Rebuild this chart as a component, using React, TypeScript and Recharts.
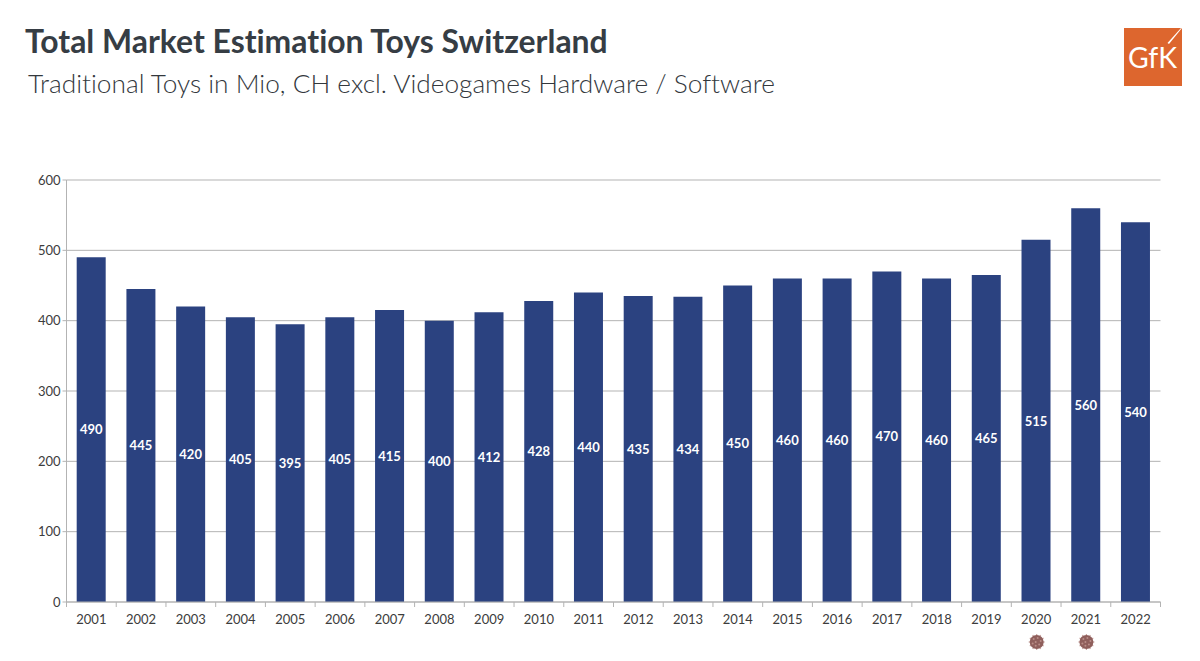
import { BarChart, Bar, XAxis, YAxis, CartesianGrid, LabelList } from 'recharts'

const years = ['2001', '2002', '2003', '2004', '2005', '2006', '2007', '2008', '2009', '2010', '2011', '2012', '2013', '2014', '2015', '2016', '2017', '2018', '2019', '2020', '2021', '2022']
const sales = [490, 445, 420, 405, 395, 405, 415, 400, 412, 428, 440, 435, 434, 450, 460, 460, 470, 460, 465, 515, 560, 540]
const yTicks = [0, 100, 200, 300, 400, 500, 600]
const covidYears = ['2020', '2021']

const chartData = years.map((year, i) => ({ year, sales: sales[i] }))

const FONT = 'Lato, "Open Sans", sans-serif'
const AXIS = '#b3b3b3'

const spikes = [0, 30, 60, 90, 120, 150, 180, 210, 240, 270, 300, 330]
const virusDots = [[-3, -3], [1, -4], [4, -1], [-1, 0], [2.5, 2.5], [-4, 1.5], [-1, 3.8]]

function YearTick({ x, y, payload }: any) {
  const half = payload.offset ?? 24.86
  const isLast = payload.value === years[years.length - 1]
  return (
    <g>
      <line x1={x - half} x2={x - half} y1={y - 8} y2={y - 3} stroke={AXIS} />
      {isLast && <line x1={x + half} x2={x + half} y1={y - 8} y2={y - 3} stroke={AXIS} />}
      <text x={x} y={y + 14} textAnchor="middle" fontSize={13} fontFamily={FONT} fill="#3c3c3c">
        {payload.value}
      </text>
      {covidYears.includes(payload.value) && (
        <g transform={`translate(${x + 0.5},${y + 32})`}>
          {spikes.map((a) => (
            <line key={a} x1={0} y1={0} x2={8 * Math.cos((a * Math.PI) / 180)} y2={8 * Math.sin((a * Math.PI) / 180)} stroke="#c9a5a0" strokeWidth={1.2} />
          ))}
          <circle r={7} fill="#8f5f5c" />
          {virusDots.map(([cx, cy]) => (
            <circle key={`${cx}-${cy}`} cx={cx} cy={cy} r={1} fill="#b98d87" />
          ))}
        </g>
      )}
    </g>
  )
}

function Logo() {
  return (
    <svg width={60} height={60} style={{ position: 'absolute', left: 1123, top: 27 }}>
      <rect x={1} y={1} width={58} height={58} fill="#dd662e" />
      <text x={5} y={41} fontSize={28} fontFamily={FONT} fill="#ffffff" textLength={49} lengthAdjust="spacingAndGlyphs">GfK</text>
      <polygon points="58,1 59,1 46,17 44.5,16" fill="#ffffff" />
    </svg>
  )
}

export default function App() {
  return (
    <div style={{ position: 'absolute', left: 0, top: 0, width: 1200, height: 661, background: '#fff', overflow: 'hidden', fontFamily: FONT }}>
      <div style={{ position: 'absolute', left: 25, top: 22, fontSize: 31.9, fontWeight: 700, color: '#363d44', whiteSpace: 'nowrap', fontVariantLigatures: 'none' }}>
        Total Market Estimation Toys Switzerland
      </div>
      <div style={{ position: 'absolute', left: 28, top: 67, fontSize: 26.25, fontWeight: 300, color: '#33383d', whiteSpace: 'nowrap', fontVariantLigatures: 'none' }}>
        Traditional Toys in Mio, CH excl. Videogames Hardware / Software
      </div>
      <Logo />
      <div style={{ position: 'absolute', left: 0, top: 0 }}>
        <BarChart width={1200} height={661} data={chartData} margin={{ top: 180, right: 39.5, bottom: 0, left: 0 }} barCategoryGap="20.5%">
          <CartesianGrid horizontal vertical={false} stroke={AXIS} />
          <XAxis dataKey="year" height={59} interval={0} axisLine={{ stroke: AXIS }} tickLine={false} tick={<YearTick />} />
          <YAxis width={66.5} domain={[0, 600]} ticks={yTicks} axisLine={{ stroke: AXIS }} tickLine={{ stroke: AXIS }} tickSize={4} tick={{ fontSize: 13, fontFamily: FONT, fill: '#3c3c3c' }} />
          <Bar dataKey="sales" fill="#2b4280" isAnimationActive={false}>
            <LabelList dataKey="sales" position="center" fill="#ffffff" fontSize={13} fontWeight={700} fontFamily={FONT} />
          </Bar>
        </BarChart>
      </div>
    </div>
  )
}
